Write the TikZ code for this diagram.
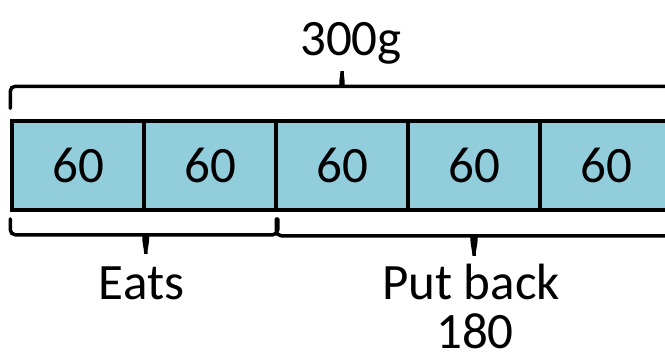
\documentclass[tikz,border=0pt]{standalone}
\usepackage{fontspec}
\setmainfont{Carlito}
\usetikzlibrary{calc}
\definecolor{barblue}{HTML}{92CDDC}
\tikzset{
  cell/.style={draw,fill=barblue,line width=3.5pt,minimum width=132pt,minimum height=89pt,inner sep=0pt},
  brace/.style={line width=3.5pt,rounded corners=5pt,line cap=round},
  lbl/.style={anchor=base,inner sep=0pt}
}
\begin{document}
\begin{tikzpicture}[x=1pt,y=-1pt,font=\fontsize{51}{60}\selectfont]
\useasboundingbox(0,0)rectangle(665,354);
\clip(0,0)rectangle(665,354);
\foreach\i in{1,...,5}{
\node[cell](c\i)at({78+132*(\i-1)},165.5){60};}
% braces
\coordinate(tt)at($(c1.north west)!.5!(c5.north east)$);
\draw[brace]([yshift=11pt]c1.north west)|-([xshift=-5pt,yshift=33pt]tt)
  to[out=0,in=-90]([yshift=51pt]tt)to[out=-90,in=180]([xshift=5pt,yshift=33pt]tt)
  -|([yshift=11pt]c5.north east);
\draw[brace]([yshift=-7pt]c1.south west)|-([xshift=-5pt,yshift=-23pt]c1.south east)
  to[out=0,in=90]([yshift=-45pt]c1.south east)to[out=90,in=180]([xshift=5pt,yshift=-23pt]c1.south east)
  -|([yshift=-7pt]c2.south east);
\coordinate(bt)at($(c3.south west)!.5!(c5.south east)$);
\draw[brace]([xshift=2pt,yshift=-7pt]c3.south west)|-([xshift=-5pt,yshift=-24pt]bt)
  to[out=0,in=90]([yshift=-47pt]bt)to[out=90,in=180]([xshift=5pt,yshift=-24pt]bt)
  -|([yshift=-7pt]c5.south east);
\node[lbl](total)at(351,55){300g};
\node[lbl](eats)at(141.5,299){Eats};
\node[lbl](back)at(471,299){Put back};
\node[lbl](rest)at(475,348){180};
\end{tikzpicture}
\end{document}
